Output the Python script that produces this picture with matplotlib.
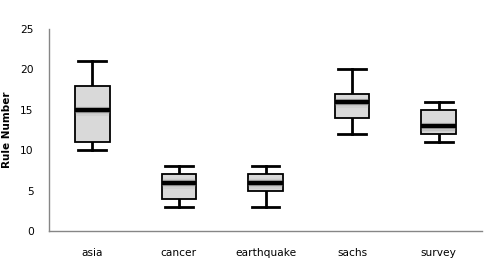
import matplotlib.pyplot as plt

datasets = ["asia", "cancer", "earthquake", "sachs", "survey"]
whisker_low = [10, 3, 3, 12, 11]
box_low = [11, 4, 5, 14, 12]
median = [15, 6, 6, 16, 13]
box_high = [18, 7, 7, 17, 15]
whisker_high = [21, 8, 8, 20, 16]

stats = []
for i, name in enumerate(datasets):
    stats.append({
        "label": name,
        "whislo": whisker_low[i],
        "q1": box_low[i],
        "med": median[i],
        "q3": box_high[i],
        "whishi": whisker_high[i],
    })

fig = plt.figure(figsize=(4.86, 2.59), dpi=100)
ax = fig.add_axes([0.1008, 0.1081, 0.891, 0.78])

pos = list(range(len(datasets)))
ax.bxp(stats, positions=pos, widths=0.4, showfliers=False, patch_artist=True,
       boxprops=dict(facecolor="#d9d9d9", edgecolor="black", linewidth=1.3, zorder=2),
       whiskerprops=dict(color="black", linewidth=2, zorder=1),
       capprops=dict(color="black", linewidth=2, zorder=1),
       medianprops=dict(color="black", linewidth=3.2, zorder=4),
       capwidths=0.32)

# soft shadow around median lines
for p, m in zip(pos, median):
    for off, a in [(0.25, 0.35), (0.45, 0.2), (0.65, 0.1)]:
        ax.plot([p - 0.2, p + 0.2], [m - off, m - off], color="#808080",
                alpha=a, linewidth=1.5, zorder=3, solid_capstyle="butt")
        ax.plot([p - 0.2, p + 0.2], [m + off * 0.6, m + off * 0.6], color="#808080",
                alpha=a * 0.6, linewidth=1.2, zorder=3, solid_capstyle="butt")

ax.set_xlim(-0.5, 4.5)
ax.set_ylim(0, 25)
ax.set_yticks([0, 5, 10, 15, 20, 25])
ax.set_xticks(pos)
ax.set_xticklabels(datasets)
ax.tick_params(axis="both", length=0, labelsize=7.7, colors="black")
ax.tick_params(axis="x", pad=12)
ax.tick_params(axis="y", pad=11)
ax.set_ylabel("Rule Number", fontsize=7.5, fontweight="bold")
ax.yaxis.set_label_coords(-0.085, 0.5)

for s in ["top", "right"]:
    ax.spines[s].set_visible(False)
for s in ["left", "bottom"]:
    ax.spines[s].set_color("#868686")
    ax.spines[s].set_linewidth(1)

fig.savefig("out.png", dpi=100)
